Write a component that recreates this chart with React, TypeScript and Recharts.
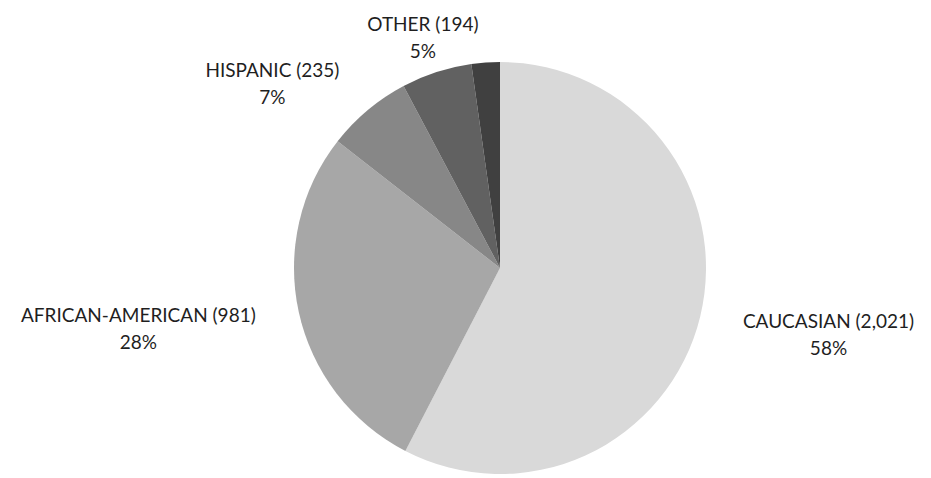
import React from 'react';
import { PieChart, Pie, Cell } from 'recharts';

const CATEGORIES = ['CAUCASIAN', 'AFRICAN-AMERICAN', 'HISPANIC', 'OTHER', ''];
const COUNTS = [2021, 981, 235, 194, 78];
const PERCENT_LABELS = ['58%', '28%', '7%', '5%', ''];
const COLORS = ['#d9d9d9', '#a7a7a7', '#878787', '#616161', '#404040'];

const data = CATEGORIES.map((name, i) => ({ name, value: COUNTS[i], pct: PERCENT_LABELS[i] }));

const FONT = 'Lato, sans-serif';
const FONT_SIZE = 19;
const LINE_GAP = 27;

if (typeof document !== 'undefined') {
  document.body.style.margin = '0';
}

let ctx: CanvasRenderingContext2D | null = null;
function textWidth(s: string) {
  if (!ctx) ctx = document.createElement('canvas').getContext('2d');
  if (!ctx) return s.length * 10;
  ctx.font = `${FONT_SIZE}px ${FONT}`;
  return ctx.measureText(s).width;
}

const renderLabel = (props: any) => {
  const { cx, cy, midAngle, outerRadius, index } = props;
  const d = data[index];
  if (!d.name) return null;
  const line1 = `${d.name} (${d.value.toLocaleString('en-US')})`;
  const rad = (midAngle * Math.PI) / 180;
  const cos = Math.cos(rad);
  const r = outerRadius + 44;
  const px = cx + r * cos;
  const py = cy - r * Math.sin(rad);
  // side labels hang off the pie, top/bottom ones are centred on the point
  const w = textWidth(line1);
  const x = cos > 0.5 ? px + w / 2 : cos < -0.5 ? px - w / 2 : px;
  return (
    <text x={x} y={py} textAnchor="middle" fill="#1f1f1f" fontFamily={FONT} fontSize={FONT_SIZE}>
      <tspan x={x} dy={1}>{line1}</tspan>
      <tspan x={x} dy={LINE_GAP}>{d.pct}</tspan>
    </text>
  );
};

export default function App() {
  return (
    <div style={{ width: 931, height: 478, background: '#fff' }}>
      <PieChart width={931} height={478} margin={{ top: 0, right: 0, bottom: 0, left: 0 }}>
        <Pie
          data={data}
          dataKey="value"
          nameKey="name"
          cx={500}
          cy={268}
          outerRadius={206}
          startAngle={90}
          endAngle={-270}
          stroke="none"
          labelLine={false}
          label={renderLabel}
          isAnimationActive={false}
        >
          {data.map((entry, index) => (
            <Cell key={`cell-${index}`} fill={COLORS[index]} />
          ))}
        </Pie>
      </PieChart>
    </div>
  );
}
